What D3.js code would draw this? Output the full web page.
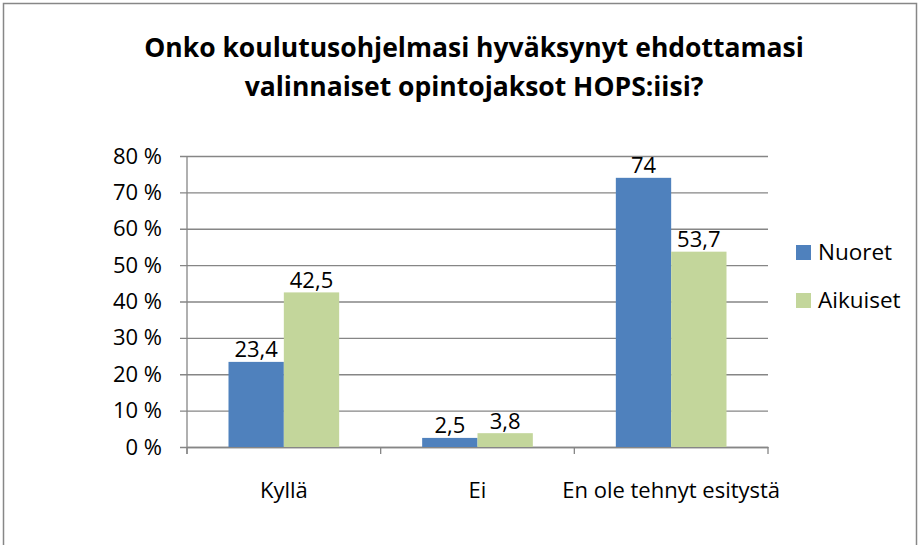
<!DOCTYPE html>
<html>
<head>
<meta charset="utf-8">
<script src="https://cdn.jsdelivr.net/npm/d3@7"></script>
<style>
  body { margin: 0; background: #fff; }
  svg { display: block; font-family: "Open Sans", sans-serif; }
</style>
</head>
<body>
<div id="chart"></div>
<script>
const categories = ["Kyllä", "Ei", "En ole tehnyt esitystä"];
const seriesNames = ["Nuoret", "Aikuiset"];
const nuoret = [23.4, 2.5, 74];
const aikuiset = [42.5, 3.8, 53.7];
const yTicks = [0, 10, 20, 30, 40, 50, 60, 70, 80];
const titleLines = ["Onko koulutusohjelmasi hyväksynyt ehdottamasi", "valinnaiset opintojaksot HOPS:iisi?"];

const colors = ["#4F81BD", "#C3D69B"];
const gridColor = "#868686";
const font = "'Open Sans', sans-serif";
const labelSize = 22;

const width = 921, height = 545;
const margin = { top: 156, left: 187, right: 153, bottom: 98 };

const svg = d3.select("#chart").append("svg")
    .attr("width", width)
    .attr("height", height);

// Chart border
svg.append("rect")
    .attr("x", 3.5).attr("y", 3.5)
    .attr("width", 913).attr("height", 560)
    .attr("fill", "#fff")
    .attr("stroke", "#878787")
    .attr("stroke-width", 1.5);

// Title
svg.append("g").selectAll("text")
    .data(titleLines)
    .join("text")
    .attr("x", 474)
    .attr("y", (d, i) => 57 + i * 39)
    .attr("text-anchor", "middle")
    .attr("font-size", 26.5)
    .attr("font-weight", "bold")
    .text(d => d);

const plotW = width - margin.left - margin.right;
const plotH = height - margin.top - margin.bottom;

const g = svg.append("g").attr("transform", `translate(${margin.left},${margin.top})`);

const x = d3.scaleBand().domain(categories).range([0, plotW]).padding(0);
const inner = d3.scaleBand().domain(seriesNames).range([0, x.bandwidth()]).paddingInner(0).paddingOuter(0.75);
const y = d3.scaleLinear().domain([0, 80]).range([plotH, 0]);

// Horizontal grid + y axis
const yAxis = g.append("g")
    .call(d3.axisLeft(y).tickValues(yTicks).tickSize(-plotW).tickPadding(25).tickFormat(d => d + " %"));
yAxis.select(".domain").remove();
yAxis.selectAll(".tick line").attr("stroke", gridColor).attr("stroke-width", 1.3).attr("x1", -7);
yAxis.selectAll(".tick text").attr("font-size", labelSize).attr("fill", "#000").attr("font-family", font);

// Vertical axis line
g.append("line")
    .attr("x1", 0).attr("x2", 0)
    .attr("y1", 0).attr("y2", plotH + 7)
    .attr("stroke", gridColor).attr("stroke-width", 1.3);

// Category axis
const xAxis = g.append("g")
    .attr("transform", `translate(0,${plotH})`)
    .call(d3.axisBottom(x).tickSize(0).tickPadding(35.5));
xAxis.select(".domain").attr("stroke", gridColor).attr("stroke-width", 1.3);
xAxis.selectAll(".tick text").attr("font-size", labelSize).attr("fill", "#000").attr("font-family", font);

// Category separator ticks
g.append("g").selectAll("line")
    .data(d3.range(categories.length + 1))
    .join("line")
    .attr("x1", i => i * x.step()).attr("x2", i => i * x.step())
    .attr("y1", plotH).attr("y2", plotH + 7)
    .attr("stroke", gridColor).attr("stroke-width", 1.3);

// Bars
const rows = categories.map((c, i) => ({
    cat: c,
    vals: [{ s: seriesNames[0], v: nuoret[i] }, { s: seriesNames[1], v: aikuiset[i] }]
}));

const groups = g.append("g").selectAll("g")
    .data(rows)
    .join("g")
    .attr("transform", d => `translate(${x(d.cat)},0)`);

groups.selectAll("rect")
    .data(d => d.vals)
    .join("rect")
    .attr("x", d => inner(d.s))
    .attr("y", d => y(d.v))
    .attr("width", inner.bandwidth())
    .attr("height", d => plotH - y(d.v))
    .attr("fill", (d, i) => colors[i]);

groups.selectAll("text")
    .data(d => d.vals)
    .join("text")
    .attr("x", d => inner(d.s) + inner.bandwidth() / 2)
    .attr("y", d => y(d.v) - 4.5)
    .attr("text-anchor", "middle")
    .attr("font-size", labelSize)
    .text(d => String(d.v).replace(".", ","));

// Legend
const legend = svg.append("g").attr("transform", "translate(796,245)");
const li = legend.selectAll("g")
    .data(seriesNames)
    .join("g")
    .attr("transform", (d, i) => `translate(0,${i * 48})`);
li.append("rect")
    .attr("width", 15).attr("height", 15)
    .attr("fill", (d, i) => colors[i]);
li.append("text")
    .attr("x", 22).attr("y", 14.5)
    .attr("font-size", 22.5)
    .text(d => d);
</script>
</body>
</html>
